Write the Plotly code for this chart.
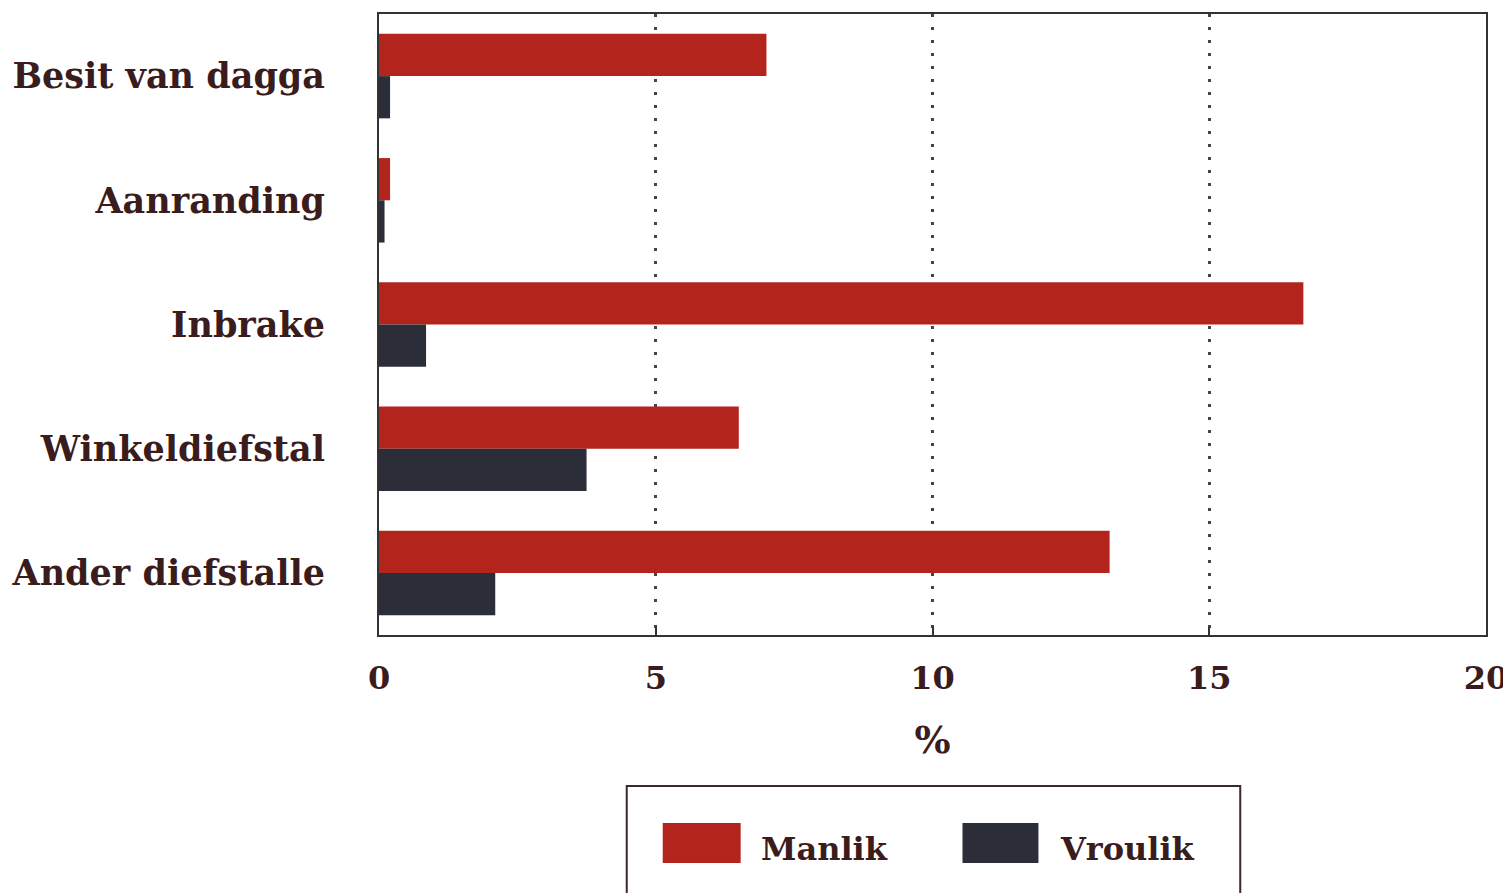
import plotly.graph_objects as go

categories = ["Besit van dagga", "Aanranding", "Inbrake", "Winkeldiefstal", "Ander diefstalle"]
manlik = [7.0, 0.2, 16.7, 6.5, 13.2]
vroulik = [0.2, 0.1, 0.85, 3.75, 2.1]
series_names = ["Manlik", "Vroulik"]
colors = ["#b3241d", "#2b2d38"]
x_ticks = [0, 5, 10, 15, 20]

TXT = "#3a1c1c"
FONT = "DejaVu Serif"

fig = go.Figure()
for name, vals, col in zip(series_names, [manlik, vroulik], colors):
    fig.add_trace(go.Bar(
        y=categories, x=vals, name=name, orientation="h",
        marker=dict(color=col, line=dict(width=0)),
        showlegend=False,
    ))

fig.update_layout(
    width=1504, height=886,
    margin=dict(l=371, r=25, t=4, b=259),
    paper_bgcolor="white", plot_bgcolor="white",
    barmode="group", bargap=0.32, bargroupgap=0,
    font=dict(family=FONT, color=TXT, size=28, weight="bold"),
)
fig.update_xaxes(
    range=[0, 20], tickvals=x_ticks, ticktext=[str(v) for v in x_ticks],
    showgrid=True, gridcolor="#444", griddash="3px,10px", gridwidth=3,
    showline=True, linecolor="#333", linewidth=2, mirror=True,
    ticks="inside", ticklen=8, tickcolor="#333", tickwidth=2,
    tickfont=dict(size=32, family=FONT, color=TXT, weight="bold"),
    ticklabelstandoff=14,
    title=dict(text="%", font=dict(size=38, family=FONT, color=TXT), standoff=30),
    zeroline=False,
)
fig.update_yaxes(
    autorange="reversed",
    showline=True, linecolor="#333", linewidth=2, mirror=True,
    ticks="", showgrid=False,
    tickfont=dict(size=35, family=FONT, color=TXT, weight="bold"),
    ticklabelstandoff=45,
)

# custom legend
fig.add_shape(type="rect", xref="paper", yref="paper",
              x0=0.2238, x1=0.778, y0=-0.46, y1=-0.2432,
              line=dict(color="#3a2a2a", width=2), fillcolor="rgba(0,0,0,0)")
for name, col, x0, x1, tx in [(series_names[0], colors[0], 0.2563, 0.3267, 0.343),
                              (series_names[1], colors[1], 0.5271, 0.5957, 0.6137)]:
    fig.add_shape(type="rect", xref="paper", yref="paper",
                  x0=x0, x1=x1, y0=-0.3671, y1=-0.3027,
                  line=dict(width=0), fillcolor=col)
    fig.add_annotation(xref="paper", yref="paper", x=tx, y=-0.3446,
                       text=name, showarrow=False, xanchor="left", yanchor="middle",
                       font=dict(size=32, family=FONT, color=TXT, weight="bold"))

fig.write_html("out.html")
